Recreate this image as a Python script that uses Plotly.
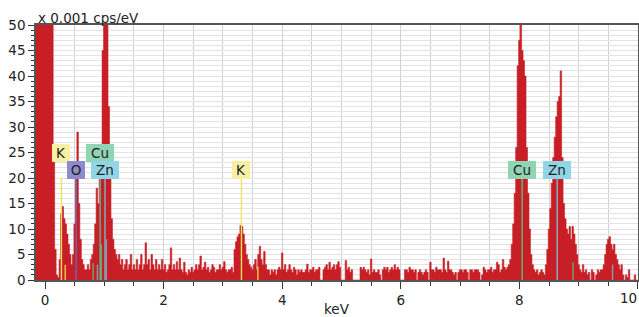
import plotly.graph_objects as go

# ---------------- data ----------------
# EDS spectrum, units of 0.001 cps/eV, channel width 0.025 keV
bin_width_kev = 0.025
first_bin_center_kev = -0.15

counts_pre = [140, 150, 170, 180, 180, 175]                      # -0.150 .. -0.025
counts_00 = [170, 160, 140, 120, 95, 65, 25, 6, 1, 0.5, 4, 13, 14.4, 12, 11, 9, 7, 5, 3, 5]
counts_05 = [11, 20, 29, 15, 8, 4, 3, 2, 2, 3, 2, 4, 5, 7, 11, 18, 15, 21, 26, 45]
counts_10 = [70, 70, 60, 34, 20, 12, 8, 6, 5, 4, 5, 3, 4, 2, 3, 4, 2, 3, 5, 2]
counts_15 = [3, 2, 4, 2, 3, 5, 2, 3, 7.3, 3, 4, 2, 5, 3, 2, 4, 2, 3, 2, 4]
counts_20 = [2, 3, 1.5, 2, 3, 6.3, 2, 3, 2, 3.6, 2, 4.3, 2, 1.5, 3.5, 1.5, 1, 2, 1.5, 2.5]
counts_25 = [1.5, 2, 3, 2, 3, 4.7, 2, 2.5, 3.5, 2, 2.5, 1.5, 2, 3, 2.5, 1.5, 2, 2, 3, 2]
counts_30 = [2.5, 3.6, 2, 1.5, 2, 2, 2.5, 1.5, 6, 7.5, 8.5, 9, 10.7, 10.5, 9, 7, 5, 4, 3, 2.5]
counts_35 = [2, 3, 4, 2, 5, 6.6, 4, 3, 5.6, 3, 2, 2, 1, 2, 1.5, 2, 1, 2, 2.5, 2]
counts_40 = [5.3, 2, 3, 1.5, 2, 3, 2, 1.5, 2.5, 2, 1, 2, 1.5, 2, 1.5, 1.5, 2, 3.1, 1.5, 2]
counts_45 = [2, 2.5, 1.5, 2, 2, 2.5, 0, 0, 2, 2.5, 3, 2, 3.5, 2, 2.5, 3, 2, 3, 3.6, 2.5]
counts_50 = [0, 0, 0, 3.8, 2, 2.5, 1.5, 2, 0, 0, 0, 0, 0, 2.5, 2, 2.5, 2, 1.5, 2, 1]
counts_55 = [4.1, 1.5, 2, 1.5, 1.5, 2, 1, 0, 2, 2.5, 2, 2.5, 1.5, 2, 2.5, 2, 3, 2, 2.5, 2]
counts_60 = [0, 0, 0, 2, 2, 1.5, 2.5, 2, 2, 1.5, 2, 0, 1.5, 2, 1.5, 1, 1.5, 2, 1.5, 0]
counts_65 = [3.5, 2, 2, 1.5, 2.5, 2, 2, 2, 1.5, 4.3, 2, 1.5, 3.7, 2, 2, 1.5, 1, 1.5, 0, 1.5]
counts_70 = [2, 2, 1.5, 2, 2, 1.5, 0, 2, 2, 1.5, 2, 2, 2, 1.5, 0, 1, 2.5, 2, 1.5, 2]
counts_75 = [2, 2.5, 1.5, 2, 2, 3.5, 3, 1.5, 2, 4, 2.5, 2, 2.5, 3, 4, 7, 11, 17, 26, 42]
counts_80 = [47, 50, 45, 43, 40, 26, 17, 10, 5, 3, 2, 1.5, 2, 1, 1.5, 2, 1.5, 1, 3, 6]
counts_85 = [10, 14, 19, 24, 28, 32, 35, 36, 41, 24, 15, 12, 10, 9, 10.5, 8, 10.5, 9, 7, 5]
counts_90 = [3, 2, 1.5, 3, 1.5, 2, 1, 1.5, 0, 2, 1.5, 0, 1, 2, 1.5, 2, 2, 3, 5, 7]
counts_95 = [8, 8.5, 7, 6, 7, 5, 4, 3, 2, 3, 1, 0, 1, 0.5, 2, 0, 0, 0, 1, 0]

# element marker lines (main lines carry a label)
line_elements = ["K", "O", "Cu", "Zn", "K", "Cu", "Zn"]
line_energies_kev = [0.277, 0.525, 0.930, 1.012, 3.313, 8.047, 8.638]
line_heights = [20, 20, 20, 20, 20, 20, 20]
label_levels = [25.0, 21.6, 25.0, 21.6, 21.6, 21.6, 21.6]

# short secondary lines
minor_elements = ["K", "Cu", "Zn", "Cu", "Zn", "K", "Cu", "Zn"]
minor_energies_kev = [0.341, 0.811, 0.884, 0.950, 1.034, 3.590, 8.905, 9.572]
minor_heights = [3.0, 3.3, 3.0, 7.0, 8.0, 2.6, 3.5, 3.0]

x_tick_values = [0, 2, 4, 6, 8, 10]
x_tick_labels = ["0", "2", "4", "6", "8", "10"]

# ---------------- styles ----------------
RED = "#c81e25"
LINE_COLORS = {"K": "#f1e35a", "O": "#6a68b8", "Cu": "#5cbd88", "Zn": "#80b4c6"}
BOX_COLORS = {"K": "#f7efa2", "O": "#8c8ccc", "Cu": "#8fd4b3", "Zn": "#90d6e6"}
FONT = "DejaVu Sans"

counts = (counts_pre + counts_00 + counts_05 + counts_10 + counts_15 + counts_20 +
          counts_25 + counts_30 + counts_35 + counts_40 + counts_45 + counts_50 +
          counts_55 + counts_60 + counts_65 + counts_70 + counts_75 + counts_80 +
          counts_85 + counts_90 + counts_95)

left_edges = [first_bin_center_kev - bin_width_kev / 2 + i * bin_width_kev
              for i in range(len(counts))]
x_step = left_edges + [left_edges[-1] + bin_width_kev]
y_step = counts + [counts[-1]]

fig = go.Figure()
fig.add_trace(go.Scatter(
    x=x_step, y=y_step, mode="lines",
    line=dict(shape="hv", width=0.6, color=RED),
    fill="tozeroy", fillcolor=RED, hoverinfo="skip"))

for el, e, h in zip(minor_elements, minor_energies_kev, minor_heights):
    fig.add_trace(go.Scatter(x=[e, e], y=[0, h], mode="lines", opacity=0.85,
                             line=dict(color=LINE_COLORS[el], width=1.4),
                             hoverinfo="skip"))

for el, e, h in zip(line_elements, line_energies_kev, line_heights):
    fig.add_trace(go.Scatter(x=[e, e], y=[0, h], mode="lines",
                             line=dict(color=LINE_COLORS[el], width=1.4),
                             hoverinfo="skip"))

annotations = []
for el, e, lv in zip(line_elements, line_energies_kev, label_levels):
    annotations.append(dict(
        x=e, y=lv, xref="x", yref="y", text=el, showarrow=False,
        xanchor="center", yanchor="middle",
        bgcolor=BOX_COLORS[el], borderpad=1, borderwidth=0,
        width=16 if len(el) == 1 else 26, height=16, align="center",
        font=dict(family=FONT, size=13.5, color="#222")))

annotations.append(dict(
    text="x 0.001 cps/eV", xref="paper", yref="paper", x=0, y=1,
    xanchor="left", yanchor="bottom", yshift=-3, showarrow=False,
    font=dict(family=FONT, size=13.5, color="#222")))
annotations.append(dict(
    text="keV", xref="paper", yref="paper", x=0.5, y=0,
    xanchor="center", yanchor="top", yshift=-19, showarrow=False,
    font=dict(family=FONT, size=13.5, color="#222")))
# last x tick label sits flush against the right edge (shifted inward)
annotations.append(dict(
    text=x_tick_labels[-1], xref="x", yref="paper", x=x_tick_values[-1], y=0,
    xanchor="right", yanchor="top", yshift=-8, xshift=1, showarrow=False,
    font=dict(family=FONT, size=13.5, color="#222")))

tick_text = x_tick_labels[:-1] + [""]

fig.update_layout(
    width=639, height=317,
    margin=dict(l=36, r=1, t=25, b=37, autoexpand=False),
    paper_bgcolor="white", plot_bgcolor="white",
    showlegend=False,
    font=dict(family=FONT, size=13.5, color="#222"),
    annotations=annotations,
    xaxis=dict(
        range=[-0.152, 10.001], tickmode="array",
        tickvals=x_tick_values, ticktext=tick_text,
        automargin=False,
        ticks="outside", ticklen=7, tickwidth=1, tickcolor="#333",
        showline=True, linecolor="#555", linewidth=1.5, mirror=True,
        showgrid=True, gridcolor="#d2d2d2", gridwidth=1, zeroline=False,
        minor=dict(tickmode="linear", tick0=0, dtick=0.5, ticks="outside",
                   ticklen=4, tickwidth=1, tickcolor="#333",
                   showgrid=True, gridcolor="#d2d2d2", gridwidth=1),
    ),
    yaxis=dict(
        range=[0, 50], tickmode="linear", tick0=0, dtick=5,
        automargin=False,
        ticks="outside", ticklen=6, tickwidth=1, tickcolor="#333",
        showline=True, linecolor="#555", linewidth=1.5, mirror=True,
        showgrid=True, gridcolor="#e3e3e3", gridwidth=1, zeroline=False,
        minor=dict(tickmode="linear", tick0=0, dtick=1, ticks="outside",
                   ticklen=3, tickwidth=1, tickcolor="#333",
                   showgrid=True, gridcolor="#e3e3e3", gridwidth=1),
    ),
)

fig.write_html(
    "out.html",
    config={"displayModeBar": False},
    post_script="document.body.style.margin='0';document.body.style.padding='0';"
                "document.documentElement.style.overflow='hidden';")
